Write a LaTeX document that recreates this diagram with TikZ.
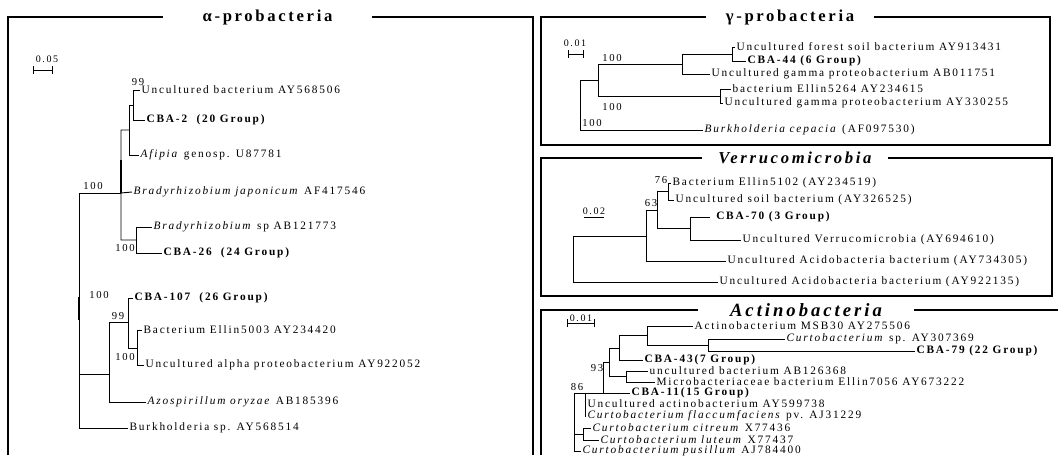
\documentclass[tikz,border=0pt]{standalone}
\usepackage{fontspec}
\setmainfont{Liberation Serif}[LetterSpace=16]
\usetikzlibrary{arrows.meta}

\begin{document}
\begin{tikzpicture}[x=0.75pt,y=-0.75pt,
  leaf/.style={anchor=west,inner sep=1pt,font=\fontsize{8.5}{9}\selectfont},
  grp/.style={leaf,font=\fontsize{8.5}{9}\selectfont\bfseries},
  boot/.style={inner sep=0.5pt,font=\fontsize{8}{8}\selectfont},
  scl/.style={inner sep=0.5pt,font=\fontsize{7.5}{8}\selectfont},
  branch/.style={line width=0.7pt},
  panel/.style={line width=1pt},
  title/.style={fill=white,inner ysep=1pt,font=\fontsize{12.5}{14}\selectfont\bfseries}]
\useasboundingbox (0,0) rectangle (1058,455);
\draw[panel] (8,455) -- (8,17) -- (533,17) -- (533,455);
\draw[panel] (541,17) rectangle (1050,145);
\draw[panel] (541,158) rectangle (1052,296);
\draw[panel] (541,455) -- (541,310) -- (1058,310);
\node[title,inner xsep=30pt] (talpha) at (267.5,17) {α-probacteria};
\node[title,inner xsep=15pt] (tgamma) at (790,17) {γ-probacteria};
\node[title,inner xsep=12pt,font=\fontsize{12.5}{14}\selectfont\bfseries\itshape] (tverru) at (795,158) {Verrucomicrobia};
\node[title,inner xsep=24pt,font=\fontsize{14}{15}\selectfont\bfseries\itshape] (tactino) at (806,310) {Actinobacteria};

\node[scl] (sa) at (47,59) {0.05};
\coordinate (sa1) at (33,70);
\coordinate (sa2) at (53,70);
\draw[branch,|-|] (sa1) -- (sa2);
\node[leaf] (a1) at (140,90) {Uncultured bacterium AY568506};
\node[grp] (a2) at (145,120) {CBA-2~~(20 Group)};
\node[leaf] (a3) at (139,155) {\textit{Afipia} genosp. U87781};
\node[leaf] (a4) at (132,192) {\textit{Bradyrhizobium japonicum} AF417546};
\node[leaf] (a5) at (152,227) {\textit{Bradyrhizobium} sp AB121773};
\node[grp] (a6) at (162,253) {CBA-26~~(24 Group)};
\node[grp] (a7) at (133,298) {CBA-107~~(26 Group)};
\node[leaf] (a8) at (142,330) {Bacterium Ellin5003 AY234420};
\node[leaf] (a9) at (144,365) {Uncultured alpha proteobacterium AY922052};
\node[leaf] (a10) at (146,402) {\textit{Azospirillum oryzae} AB185396};
\node[leaf] (a11) at (128,428) {Burkholderia sp. AY568514};
\coordinate (nA) at (133,105);
\coordinate (nB) at (129,130);
\coordinate (nC) at (121,193);
\coordinate (nD) at (136,240);
\coordinate (nE) at (79,300);
\coordinate (nF) at (109,374);
\coordinate (nG) at (128,322);
\coordinate (nH) at (137,348);
\draw[branch] (nA) |- (a1.west) (nA) |- (a2.west);
\draw[branch] (nB) |- (nA) (nB) |- (a3.west);
\draw[branch] (nC) |- (nB) (nC) -- (a4.west) (nC) |- (nD);
\draw[branch] (nD) |- (a5.west) (nD) |- (a6.west);
\draw[branch] (nE) |- (nC) (nE) |- (nF) (nE) |- (a11.west);
\draw[branch] (nF) |- (nG) (nF) |- (a10.west);
\draw[branch] (nG) |- (a7.west) (nG) |- (nH);
\draw[branch] (nH) |- (a8.west) (nH) |- (a9.west);
\draw[line width=1.3pt] (121,160) -- (nC);
\draw[line width=1.3pt] (79,297) -- (79,320);
\node[boot] (b1) at (138,82) {99};
\node[boot] (b2) at (93,186) {100};
\node[boot] (b3) at (125,248) {100};
\node[boot] (b4) at (99,295) {100};
\node[boot] (b5) at (118,316) {99};
\node[boot] (b6) at (125,357) {100};

\node[scl] (sg) at (575,43) {0.01};
\coordinate (sg1) at (568,54);
\coordinate (sg2) at (584,54);
\draw[branch,|-|] (sg1) -- (sg2);
\node[leaf] (g1) at (735,47) {Uncultured forest soil bacterium AY913431};
\node[grp] (g2) at (746,61) {CBA-44 (6 Group)};
\node[leaf] (g3) at (710,74) {Uncultured gamma proteobacterium AB011751};
\node[leaf] (g4) at (731,89) {bacterium Ellin5264 AY234615};
\node[leaf] (g5) at (723,103) {Uncultured gamma proteobacterium AY330255};
\node[leaf] (g6) at (703,130) {\textit{Burkholderia cepacia} (AF097530)};
\coordinate (nQ) at (732,54);
\coordinate (nQp) at (682,64);
\coordinate (nS) at (720,96);
\coordinate (nP) at (598,80);
\coordinate (nR) at (580,105);
\draw[branch] (nQ) |- (g1.west) (nQ) |- (g2.west);
\draw[branch] (nQp) |- (nQ) (nQp) |- (g3.west);
\draw[branch] (nS) |- (g4.west) (nS) |- (g5.west);
\draw[branch] (nP) |- (nQp) (nP) |- (nS);
\draw[branch] (nR) |- (nP) (nR) |- (g6.west);
\node[boot] (b7) at (612,58) {100};
\node[boot] (b8) at (612,107) {100};
\node[boot] (b9) at (592,123) {100};

\node[scl] (sv) at (594,211) {0.02};
\coordinate (sv1) at (584,217);
\coordinate (sv2) at (604,217);
\draw[branch] (sv1) -- (sv2);
\node[leaf] (v1) at (671,183) {Bacterium Ellin5102 (AY234519)};
\node[leaf] (v2) at (674,200) {Uncultured soil bacterium (AY326525)};
\node[grp] (v3) at (710,217) {~CBA-70 (3 Group)};
\node[leaf] (v4) at (741,240) {Uncultured Verrucomicrobia (AY694610)};
\node[leaf] (v5) at (726,261) {Uncultured Acidobacteria bacterium (AY734305)};
\node[leaf] (v6) at (718,282) {Uncultured Acidobacteria bacterium (AY922135)};
\coordinate (nV1) at (668,191);
\coordinate (nV3) at (690,228);
\coordinate (nV2) at (657,210);
\coordinate (nV0) at (646,236);
\coordinate (nV) at (573,259);
\draw[branch] (nV1) |- (v1.west) (nV1) |- (v2.west);
\draw[branch] (nV3) |- (v3.west) (nV3) |- (v4.west);
\draw[branch] (nV2) |- (nV1) (nV2) |- (nV3);
\draw[branch] (nV0) |- (nV2) (nV0) |- (v5.west);
\draw[branch] (nV) |- (nV0) (nV) |- (v6.west);
\node[boot] (b10) at (661,180) {76};
\node[boot] (b11) at (651,203) {63};

\node[scl] (sc) at (581,318) {0.01};
\coordinate (sc1) at (567,323);
\coordinate (sc2) at (595,323);
\draw[branch,|-|] (sc1) -- (sc2);
\node[leaf] (c1) at (693,326) {Actinobacterium MSB30 AY275506};
\node[leaf] (c2) at (785,339) {\textit{Curtobacterium} sp. AY307369};
\node[grp] (c3) at (915,351) {CBA-79 (22 Group)};
\node[grp] (c4) at (643,360) {CBA-43(7 Group)};
\node[leaf] (c5) at (648,371) {uncultured bacterium AB126368};
\node[leaf] (c6) at (655,382) {Microbacteriaceae bacterium Ellin7056 AY673222};
\node[grp] (c7) at (630,393) {CBA-11(15 Group)};
\node[leaf] (c8) at (586,404) {Uncultured actinobacterium AY599738};
\node[leaf] (c9) at (586,416) {\textit{Curtobacterium flaccumfaciens} pv. AJ31229};
\node[leaf] (c10) at (591,428) {\textit{Curtobacterium citreum} X77436};
\node[leaf] (c11) at (599,440) {\textit{Curtobacterium luteum} X77437};
\node[leaf] (c12) at (581,451) {\textit{Curtobacterium pusillum} AJ784400};
\coordinate (nA2) at (708,345);
\coordinate (nA1) at (647,335);
\coordinate (nA3) at (619,348);
\coordinate (nA5) at (626,376);
\coordinate (nA4) at (609,362);
\coordinate (nA6) at (603,393);
\coordinate (nA7) at (585,393);
\coordinate (nA8) at (583,434);
\coordinate (nRt) at (574,393);
\draw[branch] (nA2) |- (c2.west) (nA2) |- (c3.west);
\draw[branch] (nA1) |- (c1.west) (nA1) |- (nA2);
\draw[branch] (nA3) |- (nA1) (nA3) |- (c4.west);
\draw[branch] (nA5) |- (c5.west) (nA5) |- (c6.west);
\draw[branch] (nA4) |- (nA3) (nA4) |- (nA5);
\draw[branch] (nA6) |- (nA4) (nA6) -- (c7.west);
\draw[branch] (nA7) |- (c8.west) (nA7) |- (c9.west);
\draw[branch] (nA8) |- (c10.west) (nA8) |- (c11.west);
\draw[branch] (nRt) -- (nA6) (nRt) |- (nA8) (nRt) |- (c12.west);
\node[boot] (b12) at (597,368) {93};
\node[boot] (b13) at (577,387) {86};
\end{tikzpicture}
\end{document}
